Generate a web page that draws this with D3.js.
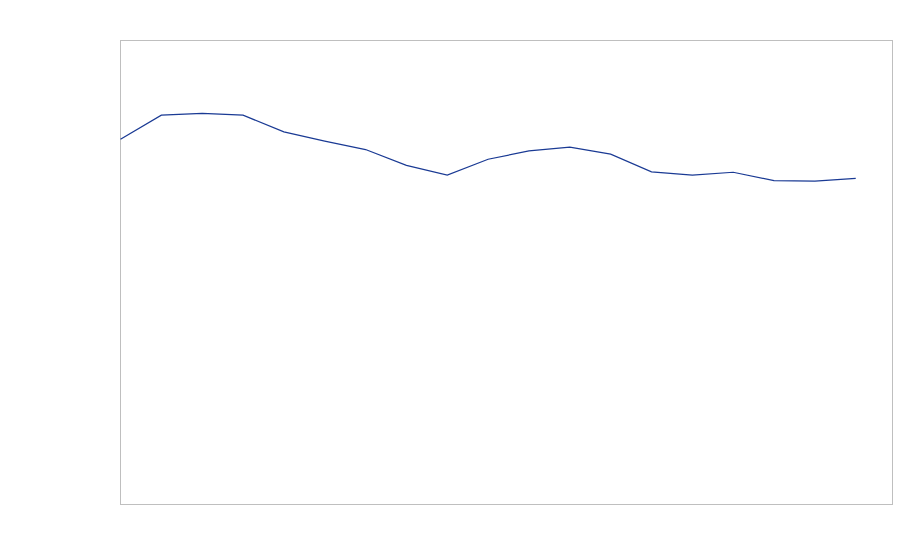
<!DOCTYPE html>
<html><head><meta charset="utf-8">
<script src="https://cdn.jsdelivr.net/npm/d3@7"></script>
<style>html,body{margin:0;padding:0;background:#fff;}</style>
</head><body><div id="chart"></div>
<script>
const periods = d3.range(19);
const values = [78.7, 83.9, 84.3, 83.9, 80.3, 78.3, 76.5, 73.1, 71.0, 74.4, 76.2, 77.0, 75.5, 71.7, 71.0, 71.6, 69.8, 69.7, 70.3];

const W = 900, H = 560;
const m = {left: 120.5, top: 40.5, right: 7.5, bottom: 55.5};
const svg = d3.select("#chart").append("svg").attr("width", W).attr("height", H);
const x = d3.scaleLinear().domain([0, 18.9]).range([m.left, W - m.right]);
const y = d3.scaleLinear().domain([0, 100]).range([H - m.bottom, m.top]);

svg.append("rect").attr("x", m.left).attr("y", m.top)
  .attr("width", W - m.right - m.left).attr("height", H - m.bottom - m.top)
  .attr("fill", "none").attr("stroke", "#bfbfbf").attr("stroke-width", 1);

svg.append("path").datum(periods)
  .attr("fill", "none").attr("stroke", "#1a3a94").attr("stroke-width", 1.2)
  .attr("d", d3.line().x(i => x(i)).y(i => y(values[i])));
</script></body></html>
